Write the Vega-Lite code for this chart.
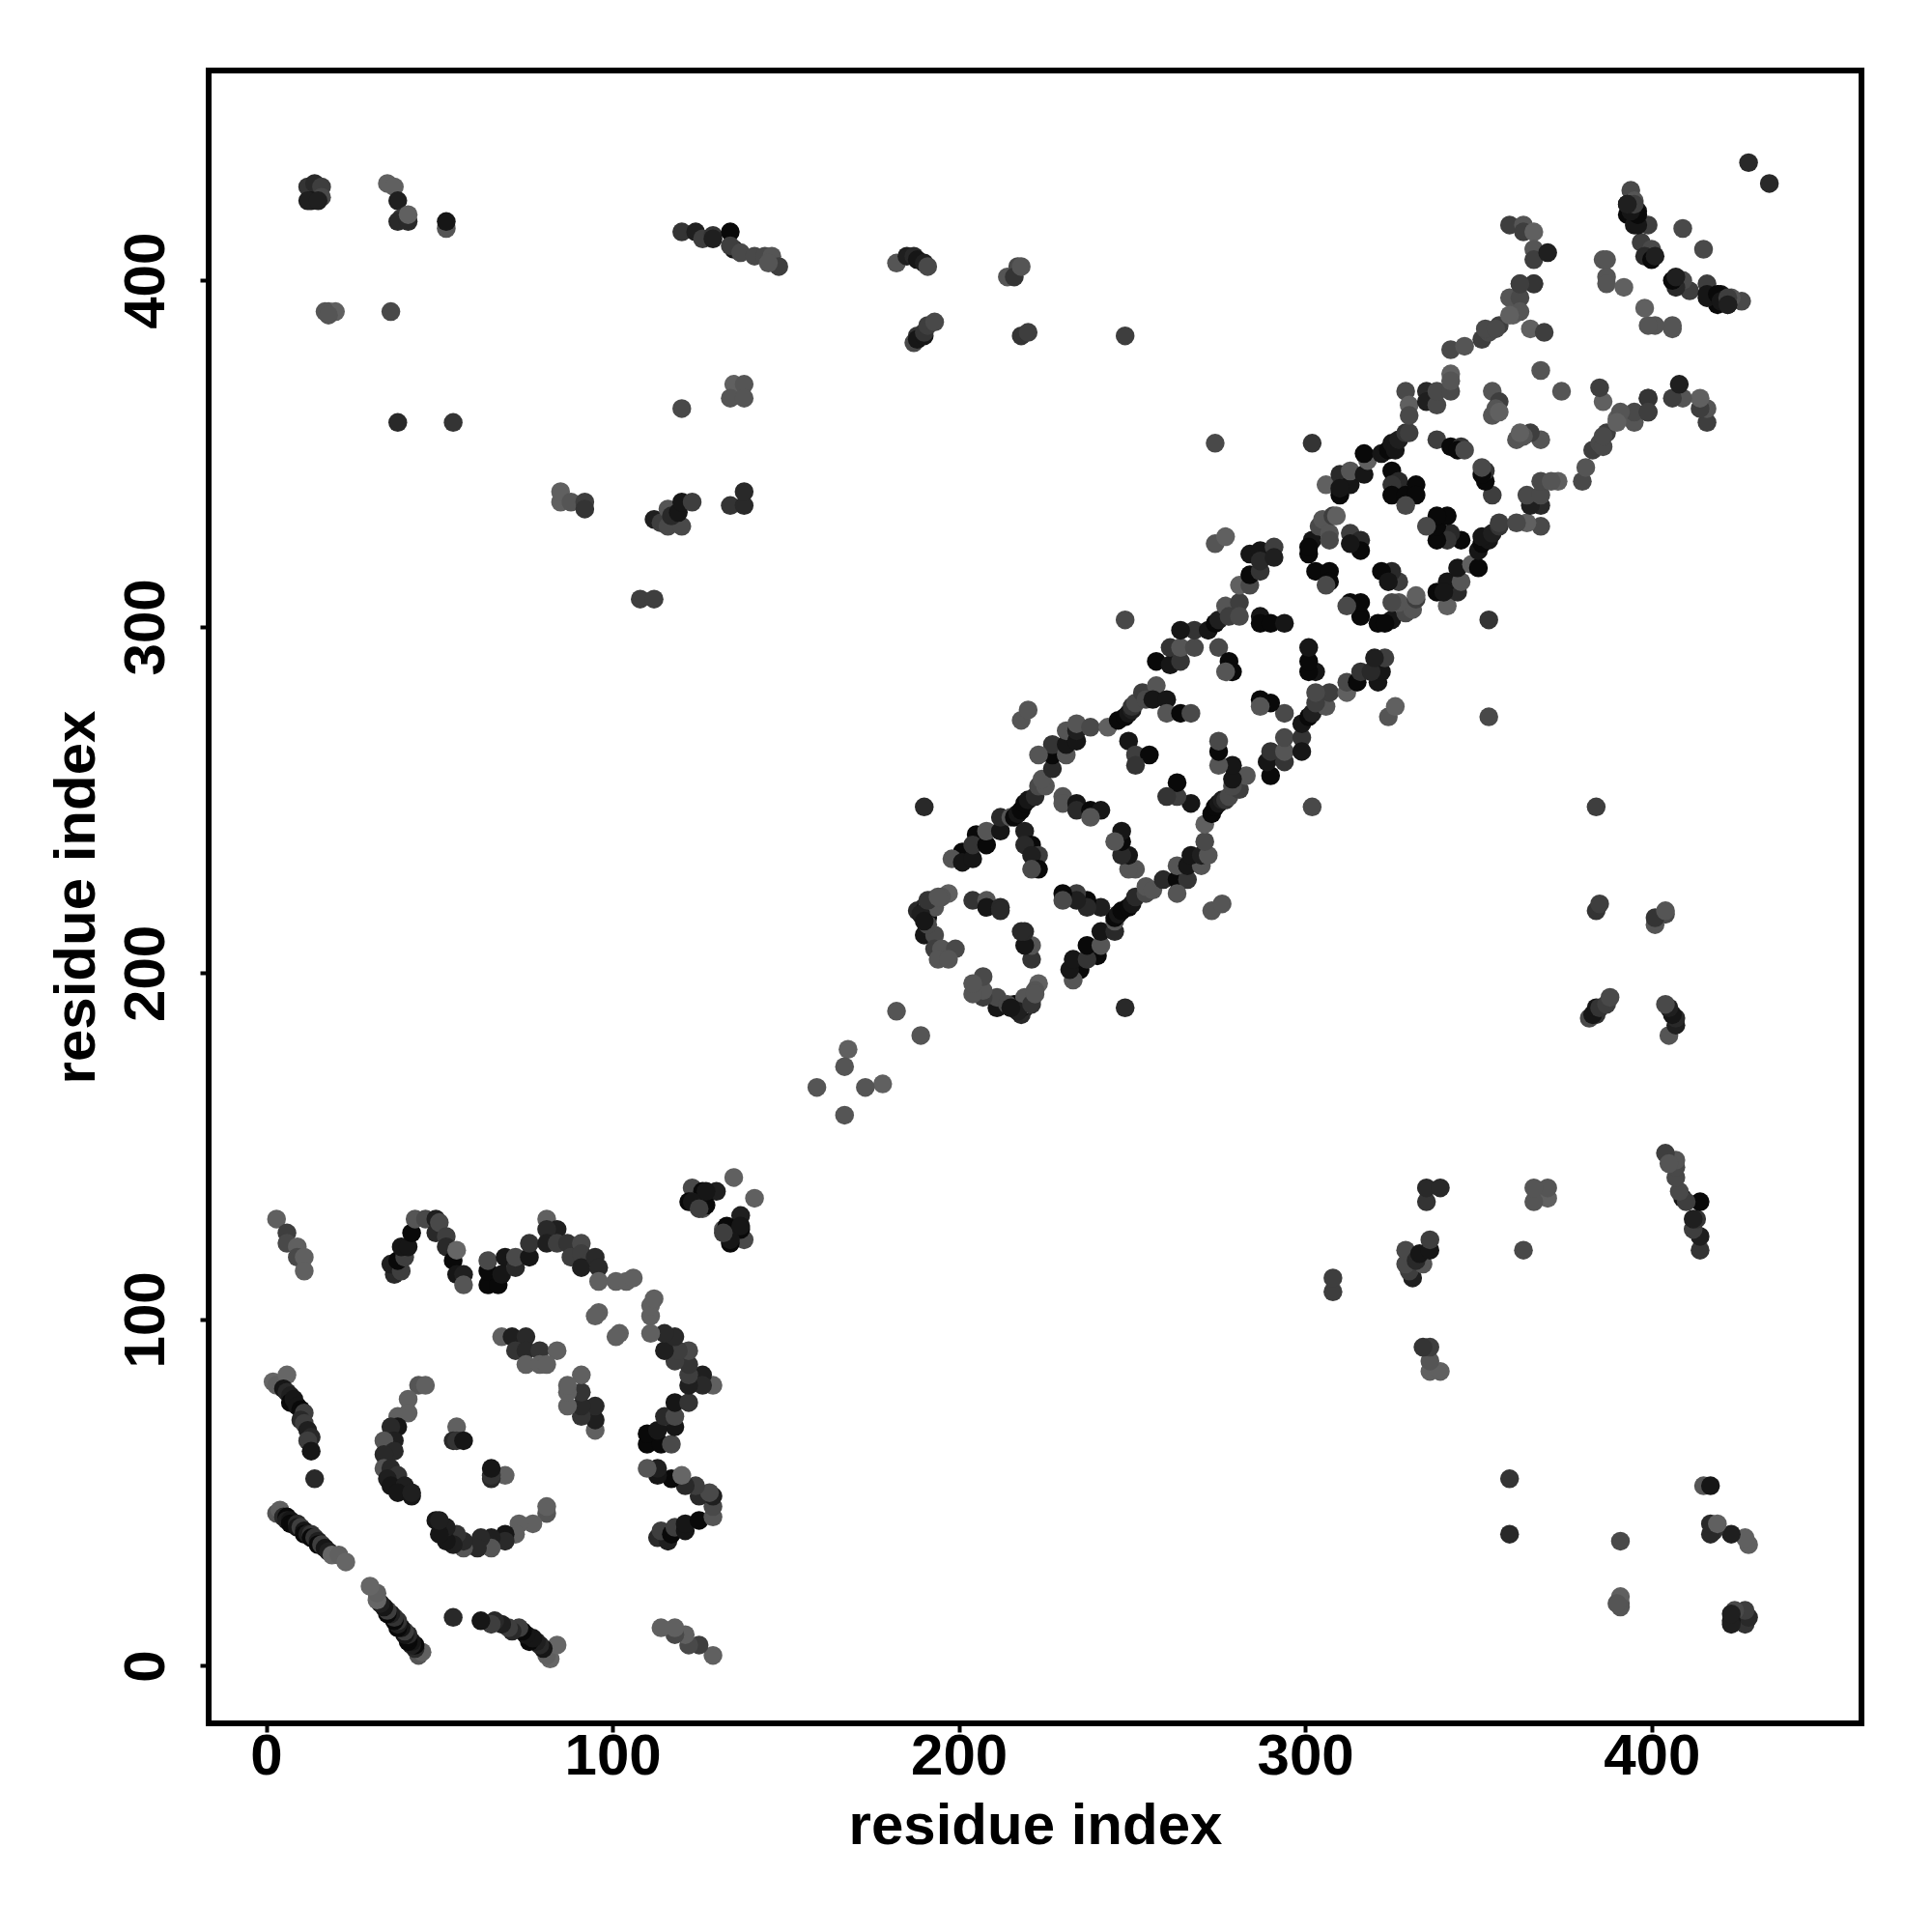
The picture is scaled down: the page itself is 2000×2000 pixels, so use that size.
{"$schema":"https://vega.github.io/schema/vega-lite/v6.json","autosize":{"type":"none"},"padding":{"left":216,"top":73,"right":73,"bottom":216},"width":1711,"height":1711,"background":"white","config":{"view":{"stroke":"black","strokeWidth":6}},"data":{"values":[
{"x":3,"y":44,"s":7},{"x":4,"y":45,"s":8},{"x":5,"y":43,"s":3},{"x":6,"y":43,"s":0},{"x":6,"y":42,"s":2},{"x":7,"y":42,"s":1},{"x":7,"y":41,"s":0},{"x":8,"y":41,"s":0},{"x":9,"y":41,"s":3},{"x":9,"y":40,"s":1},{"x":10,"y":40,"s":5},{"x":11,"y":39,"s":1},{"x":11,"y":38,"s":0},{"x":12,"y":38,"s":2},{"x":13,"y":38,"s":4},{"x":13,"y":37,"s":0},{"x":14,"y":37,"s":4},{"x":15,"y":36,"s":2},{"x":15,"y":35,"s":0},{"x":16,"y":35,"s":5},{"x":17,"y":34,"s":1},{"x":18,"y":33,"s":2},{"x":19,"y":32,"s":10},{"x":21,"y":32,"s":8},{"x":23,"y":30,"s":9},
{"x":14,"y":54,"s":3},
{"x":2,"y":82,"s":9},{"x":3,"y":81,"s":8},{"x":6,"y":84,"s":10},{"x":5,"y":80,"s":1},{"x":6,"y":79,"s":3},{"x":7,"y":78,"s":2},{"x":7,"y":76,"s":0},{"x":8,"y":77,"s":1},{"x":9,"y":75,"s":1},{"x":10,"y":74,"s":0},{"x":11,"y":73,"s":5},{"x":10,"y":71,"s":3},{"x":11,"y":70,"s":5},{"x":12,"y":68,"s":2},{"x":13,"y":66,"s":3},{"x":12,"y":65,"s":5},{"x":13,"y":62,"s":1},
{"x":3,"y":129,"s":8},{"x":6,"y":125,"s":5},{"x":6,"y":122,"s":6},{"x":9,"y":121,"s":8},{"x":9,"y":118,"s":6},{"x":11,"y":118,"s":8},{"x":11,"y":114,"s":8},
{"x":37,"y":113,"s":3},{"x":36,"y":116,"s":2},{"x":39,"y":114,"s":5},{"x":38,"y":117,"s":0},{"x":40,"y":118,"s":5},{"x":39,"y":121,"s":1},{"x":41,"y":121,"s":1},{"x":42,"y":125,"s":0},{"x":43,"y":129,"s":7},{"x":46,"y":129,"s":6},{"x":49,"y":129,"s":2},{"x":49,"y":125,"s":3},{"x":50,"y":128,"s":6},{"x":52,"y":124,"s":5},{"x":52,"y":121,"s":3},{"x":54,"y":117,"s":0},{"x":55,"y":120,"s":9},{"x":55,"y":113,"s":1},{"x":57,"y":113,"s":2},{"x":57,"y":110,"s":7},
{"x":64,"y":110,"s":0},{"x":67,"y":110,"s":0},{"x":64,"y":114,"s":0},{"x":64,"y":117,"s":6},{"x":69,"y":118,"s":1},{"x":68,"y":113,"s":1},{"x":72,"y":115,"s":3},{"x":72,"y":118,"s":6},{"x":76,"y":118,"s":1},{"x":76,"y":122,"s":4},{"x":81,"y":129,"s":8},{"x":84,"y":126,"s":2},{"x":81,"y":126,"s":3},{"x":81,"y":122,"s":2},{"x":84,"y":122,"s":5},{"x":87,"y":122,"s":4},{"x":91,"y":122,"s":6},{"x":88,"y":118,"s":5},{"x":91,"y":119,"s":5},{"x":91,"y":115,"s":2},{"x":95,"y":118,"s":3},{"x":96,"y":115,"s":3},{"x":96,"y":111,"s":8},{"x":101,"y":111,"s":8},{"x":104,"y":111,"s":8},{"x":106,"y":112,"s":8},
{"x":96,"y":102,"s":8},{"x":95,"y":101,"s":8},
{"x":68,"y":95,"s":8},{"x":71,"y":95,"s":2},{"x":75,"y":95,"s":3},{"x":72,"y":91,"s":4},{"x":75,"y":91,"s":3},{"x":79,"y":91,"s":4},{"x":84,"y":91,"s":8},{"x":75,"y":87,"s":8},{"x":79,"y":87,"s":8},{"x":81,"y":87,"s":8},
{"x":44,"y":81,"s":7},{"x":46,"y":81,"s":8},{"x":41,"y":77,"s":8},{"x":41,"y":73,"s":8},{"x":38,"y":72,"s":8},{"x":38,"y":69,"s":1},{"x":36,"y":69,"s":3},{"x":37,"y":65,"s":2},{"x":34,"y":65,"s":7},{"x":37,"y":62,"s":3},{"x":34,"y":61,"s":3},{"x":34,"y":57,"s":7},{"x":36,"y":57,"s":3},{"x":38,"y":55,"s":4},{"x":35,"y":54,"s":2},{"x":36,"y":52,"s":1},{"x":40,"y":52,"s":2},{"x":38,"y":50,"s":1},{"x":42,"y":49,"s":1},{"x":42,"y":50,"s":2},
{"x":55,"y":69,"s":8},{"x":54,"y":65,"s":3},{"x":55,"y":65,"s":4},{"x":57,"y":65,"s":1},
{"x":123,"y":138,"s":6},{"x":126,"y":137,"s":0},{"x":130,"y":137,"s":2},{"x":122,"y":134,"s":0},{"x":126,"y":134,"s":1},{"x":126,"y":132,"s":7},{"x":135,"y":141,"s":8},{"x":127,"y":133,"s":0},{"x":127,"y":137,"s":1},{"x":123,"y":134,"s":1},{"x":125,"y":132,"s":5},
{"x":12,"y":427,"s":4},{"x":14,"y":428,"s":3},{"x":16,"y":427,"s":5},{"x":16,"y":424,"s":6},{"x":13,"y":423,"s":1},{"x":12,"y":423,"s":2},{"x":15,"y":423,"s":2},{"x":35,"y":428,"s":8},{"x":37,"y":427,"s":8},{"x":38,"y":423,"s":2},{"x":39,"y":418,"s":4},{"x":38,"y":417,"s":3},{"x":41,"y":417,"s":3},{"x":41,"y":419,"s":8},{"x":52,"y":415,"s":7},{"x":52,"y":417,"s":1},{"x":18,"y":391,"s":7},{"x":20,"y":391,"s":8},{"x":17,"y":391,"s":7},{"x":18,"y":390,"s":7},{"x":36,"y":391,"s":6},{"x":38,"y":359,"s":3},{"x":54,"y":359,"s":4},
{"x":120,"y":414,"s":4},{"x":124,"y":414,"s":2},{"x":126,"y":412,"s":5},{"x":129,"y":413,"s":4},{"x":129,"y":412,"s":2},{"x":134,"y":414,"s":0},{"x":135,"y":409,"s":1},{"x":134,"y":410,"s":5},{"x":137,"y":408,"s":6},{"x":141,"y":407,"s":6},{"x":144,"y":407,"s":6},{"x":146,"y":407,"s":7},{"x":148,"y":404,"s":5},{"x":145,"y":405,"s":7},
{"x":120,"y":363,"s":6},{"x":135,"y":370,"s":8},{"x":138,"y":370,"s":7},{"x":134,"y":366,"s":7},{"x":138,"y":366,"s":7},{"x":134,"y":335,"s":4},{"x":138,"y":335,"s":3},{"x":138,"y":339,"s":3},
{"x":85,"y":336,"s":8},{"x":85,"y":339,"s":8},{"x":88,"y":336,"s":7},{"x":92,"y":336,"s":5},{"x":92,"y":334,"s":4},{"x":112,"y":331,"s":2},{"x":114,"y":330,"s":5},{"x":116,"y":329,"s":6},{"x":120,"y":329,"s":6},{"x":116,"y":334,"s":7},{"x":117,"y":332,"s":3},{"x":119,"y":333,"s":1},{"x":120,"y":336,"s":1},{"x":123,"y":336,"s":5},{"x":108,"y":308,"s":5},{"x":112,"y":308,"s":5},
{"x":182,"y":405,"s":7},{"x":185,"y":407,"s":2},{"x":187,"y":407,"s":3},{"x":188,"y":406,"s":1},{"x":190,"y":405,"s":2},{"x":191,"y":404,"s":6},{"x":187,"y":382,"s":6},{"x":188,"y":384,"s":4},{"x":188,"y":383,"s":1},{"x":190,"y":384,"s":1},{"x":190,"y":385,"s":4},{"x":191,"y":387,"s":5},{"x":193,"y":388,"s":6},{"x":214,"y":401,"s":7},{"x":217,"y":404,"s":6},{"x":216,"y":401,"s":4},{"x":218,"y":404,"s":7},{"x":218,"y":384,"s":4},{"x":220,"y":385,"s":5},{"x":248,"y":384,"s":5},
{"x":190,"y":248,"s":3},{"x":248,"y":302,"s":6},{"x":274,"y":353,"s":6},{"x":302,"y":353,"s":4},{"x":159,"y":167,"s":7},{"x":168,"y":178,"s":8},{"x":167,"y":173,"s":7},{"x":182,"y":189,"s":7},{"x":428,"y":434,"s":3},
{"x":197,"y":223,"s":8},{"x":195,"y":222,"s":7},{"x":192,"y":221,"s":6},{"x":191,"y":220,"s":5},{"x":190,"y":219,"s":2},{"x":188,"y":218,"s":3},{"x":191,"y":216,"s":0},{"x":190,"y":218,"s":1},{"x":191,"y":219,"s":7},{"x":193,"y":219,"s":7},{"x":190,"y":211,"s":1},{"x":193,"y":211,"s":6},{"x":191,"y":214,"s":6},{"x":193,"y":207,"s":5},{"x":195,"y":207,"s":7},{"x":199,"y":207,"s":6},{"x":194,"y":204,"s":7},{"x":197,"y":204,"s":7},{"x":189,"y":217,"s":2},{"x":190,"y":215,"s":1},{"x":191,"y":221,"s":4},{"x":194,"y":222,"s":7},
{"x":204,"y":221,"s":4},{"x":208,"y":221,"s":7},{"x":208,"y":219,"s":1},{"x":212,"y":219,"s":3},{"x":212,"y":218,"s":3},
{"x":201,"y":235,"s":0},{"x":198,"y":233,"s":7},{"x":201,"y":232,"s":1},{"x":204,"y":233,"s":1},{"x":205,"y":240,"s":0},{"x":204,"y":237,"s":4},{"x":208,"y":237,"s":0},{"x":208,"y":241,"s":7},{"x":212,"y":241,"s":1},{"x":212,"y":245,"s":3},{"x":215,"y":245,"s":7},{"x":216,"y":245,"s":0},{"x":217,"y":246,"s":1},{"x":218,"y":247,"s":0},{"x":219,"y":249,"s":0},{"x":220,"y":250,"s":1},{"x":222,"y":251,"s":3},{"x":223,"y":254,"s":6},{"x":225,"y":254,"s":7},{"x":224,"y":256,"s":7},
{"x":219,"y":241,"s":2},{"x":221,"y":237,"s":0},{"x":219,"y":237,"s":3},{"x":223,"y":234,"s":5},{"x":221,"y":234,"s":2},{"x":223,"y":230,"s":0},{"x":221,"y":230,"s":6},
{"x":230,"y":251,"s":7},{"x":230,"y":249,"s":7},{"x":234,"y":249,"s":1},{"x":234,"y":247,"s":3},{"x":238,"y":247,"s":0},{"x":241,"y":247,"s":1},{"x":238,"y":245,"s":7},
{"x":227,"y":259,"s":3},{"x":227,"y":263,"s":0},{"x":227,"y":266,"s":4},{"x":223,"y":263,"s":7},{"x":231,"y":263,"s":7},{"x":231,"y":266,"s":1},{"x":231,"y":270,"s":7},{"x":234,"y":267,"s":1},{"x":234,"y":270,"s":2},{"x":234,"y":272,"s":7},{"x":238,"y":271,"s":6},{"x":218,"y":273,"s":7},{"x":220,"y":276,"s":7},
{"x":243,"y":271,"s":8},{"x":246,"y":273,"s":0},{"x":248,"y":274,"s":0},{"x":249,"y":275,"s":1},{"x":250,"y":276,"s":2},{"x":250,"y":277,"s":4},{"x":251,"y":278,"s":6},{"x":253,"y":281,"s":5},{"x":254,"y":279,"s":6},{"x":257,"y":283,"s":7},{"x":256,"y":279,"s":1},{"x":260,"y":279,"s":1},{"x":260,"y":275,"s":7},{"x":264,"y":275,"s":0},{"x":267,"y":275,"s":6},{"x":249,"y":267,"s":1},{"x":251,"y":263,"s":5},{"x":255,"y":263,"s":0},{"x":251,"y":260,"s":4},
{"x":257,"y":290,"s":0},{"x":261,"y":289,"s":1},{"x":261,"y":294,"s":4},{"x":264,"y":290,"s":4},{"x":264,"y":294,"s":7},{"x":268,"y":294,"s":6},{"x":268,"y":299,"s":4},{"x":264,"y":299,"s":1},{"x":272,"y":299,"s":1},{"x":274,"y":301,"s":0},{"x":275,"y":302,"s":2},{"x":277,"y":306,"s":7},{"x":278,"y":303,"s":5},{"x":281,"y":307,"s":5},{"x":281,"y":303,"s":6},{"x":275,"y":294,"s":6},{"x":278,"y":290,"s":0},{"x":279,"y":287,"s":0},{"x":277,"y":287,"s":7},
{"x":274,"y":324,"s":7},{"x":277,"y":326,"s":8},{"x":281,"y":312,"s":8},{"x":284,"y":312,"s":6},{"x":284,"y":315,"s":0},{"x":287,"y":316,"s":4},{"x":284,"y":321,"s":1},{"x":287,"y":322,"s":1},{"x":287,"y":319,"s":3},{"x":291,"y":323,"s":5},{"x":291,"y":320,"s":2},
{"x":287,"y":303,"s":1},{"x":287,"y":301,"s":0},{"x":290,"y":301,"s":0},{"x":294,"y":301,"s":1},
{"x":302,"y":325,"s":1},{"x":301,"y":321,"s":0},{"x":301,"y":323,"s":0},{"x":304,"y":329,"s":6},{"x":305,"y":331,"s":7},{"x":307,"y":327,"s":7},{"x":308,"y":332,"s":5},{"x":309,"y":332,"s":8},{"x":307,"y":325,"s":6},{"x":313,"y":327,"s":5},{"x":316,"y":325,"s":3},{"x":316,"y":322,"s":0},{"x":303,"y":316,"s":0},{"x":307,"y":316,"s":0},{"x":307,"y":313,"s":0},{"x":306,"y":312,"s":6},{"x":313,"y":324,"s":1},
{"x":306,"y":341,"s":8},{"x":310,"y":344,"s":3},{"x":310,"y":338,"s":0},{"x":313,"y":341,"s":1},{"x":310,"y":340,"s":1},{"x":313,"y":345,"s":7},{"x":317,"y":344,"s":1},{"x":318,"y":348,"s":8},{"x":317,"y":350,"s":0},{"x":322,"y":350,"s":1},{"x":324,"y":351,"s":0},{"x":325,"y":353,"s":1},{"x":326,"y":351,"s":1},{"x":327,"y":354,"s":2},{"x":329,"y":356,"s":4},{"x":330,"y":356,"s":5},
{"x":329,"y":368,"s":6},{"x":330,"y":364,"s":8},{"x":330,"y":361,"s":6},{"x":335,"y":368,"s":3},{"x":335,"y":365,"s":2},{"x":338,"y":364,"s":6},{"x":338,"y":368,"s":6},{"x":342,"y":368,"s":6},{"x":342,"y":373,"s":8},{"x":342,"y":371,"s":7},{"x":342,"y":380,"s":6},{"x":346,"y":381,"s":7},{"x":351,"y":383,"s":5},{"x":353,"y":385,"s":6},{"x":352,"y":386,"s":6},{"x":356,"y":387,"s":5},
{"x":359,"y":395,"s":7},{"x":362,"y":395,"s":6},{"x":362,"y":399,"s":5},{"x":366,"y":399,"s":5},{"x":360,"y":390,"s":8},{"x":362,"y":391,"s":7},{"x":365,"y":386,"s":8},{"x":369,"y":385,"s":5},
{"x":359,"y":416,"s":5},{"x":363,"y":416,"s":7},{"x":363,"y":414,"s":5},{"x":366,"y":414,"s":8},{"x":366,"y":409,"s":7},{"x":366,"y":406,"s":5},{"x":370,"y":408,"s":2},
{"x":338,"y":354,"s":5},{"x":342,"y":352,"s":0},{"x":345,"y":352,"s":4},{"x":344,"y":351,"s":0},{"x":346,"y":351,"s":6},
{"x":325,"y":345,"s":0},{"x":327,"y":342,"s":3},{"x":325,"y":341,"s":4},{"x":325,"y":338,"s":0},{"x":329,"y":338,"s":0},{"x":332,"y":341,"s":0},{"x":332,"y":338,"s":0},{"x":329,"y":335,"s":6},
{"x":368,"y":374,"s":7},{"x":354,"y":368,"s":7},{"x":356,"y":365,"s":5},{"x":354,"y":361,"s":7},{"x":355,"y":363,"s":7},{"x":356,"y":362,"s":8},
{"x":394,"y":426,"s":6},{"x":395,"y":423,"s":7},{"x":393,"y":422,"s":0},{"x":393,"y":419,"s":0},{"x":396,"y":420,"s":1},{"x":395,"y":416,"s":1},{"x":399,"y":416,"s":5},{"x":397,"y":411,"s":5},{"x":400,"y":409,"s":6},{"x":398,"y":407,"s":3},{"x":400,"y":406,"s":0},{"x":401,"y":407,"s":2},{"x":409,"y":415,"s":6},{"x":396,"y":416,"s":1},{"x":396,"y":419,"s":0},{"x":394,"y":420,"s":1},{"x":395,"y":422,"s":5},{"x":393,"y":422,"s":2},
{"x":386,"y":406,"s":7},{"x":387,"y":406,"s":7},{"x":387,"y":401,"s":7},{"x":387,"y":399,"s":7},{"x":392,"y":398,"s":8},
{"x":366,"y":399,"s":4},{"x":362,"y":399,"s":5},{"x":359,"y":390,"s":8},{"x":355,"y":386,"s":6},
{"x":44,"y":3,"s":7},{"x":45,"y":4,"s":8},{"x":43,"y":5,"s":3},{"x":43,"y":6,"s":0},{"x":42,"y":6,"s":2},{"x":42,"y":7,"s":1},{"x":41,"y":7,"s":0},{"x":41,"y":8,"s":0},{"x":41,"y":9,"s":3},{"x":40,"y":9,"s":1},{"x":40,"y":10,"s":5},{"x":39,"y":11,"s":1},{"x":38,"y":11,"s":0},{"x":38,"y":12,"s":2},{"x":38,"y":13,"s":4},{"x":37,"y":13,"s":0},{"x":37,"y":14,"s":4},{"x":36,"y":15,"s":2},{"x":35,"y":15,"s":0},{"x":35,"y":16,"s":5},{"x":34,"y":17,"s":1},{"x":33,"y":18,"s":2},{"x":32,"y":19,"s":10},{"x":32,"y":21,"s":8},{"x":30,"y":23,"s":9},
{"x":54,"y":14,"s":3},
{"x":82,"y":2,"s":9},{"x":81,"y":3,"s":8},{"x":84,"y":6,"s":10},{"x":80,"y":5,"s":1},{"x":79,"y":6,"s":3},{"x":78,"y":7,"s":2},{"x":76,"y":7,"s":0},{"x":77,"y":8,"s":1},{"x":75,"y":9,"s":1},{"x":74,"y":10,"s":0},{"x":73,"y":11,"s":5},{"x":71,"y":10,"s":3},{"x":70,"y":11,"s":5},{"x":68,"y":12,"s":2},{"x":66,"y":13,"s":3},{"x":65,"y":12,"s":5},{"x":62,"y":13,"s":1},
{"x":129,"y":3,"s":8},{"x":125,"y":6,"s":5},{"x":122,"y":6,"s":6},{"x":121,"y":9,"s":8},{"x":118,"y":9,"s":6},{"x":118,"y":11,"s":8},{"x":114,"y":11,"s":8},
{"x":113,"y":37,"s":3},{"x":116,"y":36,"s":2},{"x":114,"y":39,"s":5},{"x":117,"y":38,"s":0},{"x":118,"y":40,"s":5},{"x":121,"y":39,"s":1},{"x":121,"y":41,"s":1},{"x":125,"y":42,"s":0},{"x":129,"y":43,"s":7},{"x":129,"y":46,"s":6},{"x":129,"y":49,"s":2},{"x":125,"y":49,"s":3},{"x":128,"y":50,"s":6},{"x":124,"y":52,"s":5},{"x":121,"y":52,"s":3},{"x":117,"y":54,"s":0},{"x":120,"y":55,"s":9},{"x":113,"y":55,"s":1},{"x":113,"y":57,"s":2},{"x":110,"y":57,"s":7},
{"x":110,"y":64,"s":0},{"x":110,"y":67,"s":0},{"x":114,"y":64,"s":0},{"x":117,"y":64,"s":6},{"x":118,"y":69,"s":1},{"x":113,"y":68,"s":1},{"x":115,"y":72,"s":3},{"x":118,"y":72,"s":6},{"x":118,"y":76,"s":1},{"x":122,"y":76,"s":4},{"x":129,"y":81,"s":8},{"x":126,"y":84,"s":2},{"x":126,"y":81,"s":3},{"x":122,"y":81,"s":2},{"x":122,"y":84,"s":5},{"x":122,"y":87,"s":4},{"x":122,"y":91,"s":6},{"x":118,"y":88,"s":5},{"x":119,"y":91,"s":5},{"x":115,"y":91,"s":2},{"x":118,"y":95,"s":3},{"x":115,"y":96,"s":3},{"x":111,"y":96,"s":8},{"x":111,"y":101,"s":8},{"x":111,"y":104,"s":8},{"x":112,"y":106,"s":8},
{"x":102,"y":96,"s":8},{"x":101,"y":95,"s":8},
{"x":95,"y":68,"s":8},{"x":95,"y":71,"s":2},{"x":95,"y":75,"s":3},{"x":91,"y":72,"s":4},{"x":91,"y":75,"s":3},{"x":91,"y":79,"s":4},{"x":91,"y":84,"s":8},{"x":87,"y":75,"s":8},{"x":87,"y":79,"s":8},{"x":87,"y":81,"s":8},
{"x":81,"y":44,"s":7},{"x":81,"y":46,"s":8},{"x":77,"y":41,"s":8},{"x":73,"y":41,"s":8},{"x":72,"y":38,"s":8},{"x":69,"y":38,"s":1},{"x":69,"y":36,"s":3},{"x":65,"y":37,"s":2},{"x":65,"y":34,"s":7},{"x":62,"y":37,"s":3},{"x":61,"y":34,"s":3},{"x":57,"y":34,"s":7},{"x":57,"y":36,"s":3},{"x":55,"y":38,"s":4},{"x":54,"y":35,"s":2},{"x":52,"y":36,"s":1},{"x":52,"y":40,"s":2},{"x":50,"y":38,"s":1},{"x":49,"y":42,"s":1},{"x":50,"y":42,"s":2},
{"x":69,"y":55,"s":8},{"x":65,"y":54,"s":3},{"x":65,"y":55,"s":4},{"x":65,"y":57,"s":1},
{"x":138,"y":123,"s":6},{"x":137,"y":126,"s":0},{"x":137,"y":130,"s":2},{"x":134,"y":122,"s":0},{"x":134,"y":126,"s":1},{"x":132,"y":126,"s":7},{"x":141,"y":135,"s":8},{"x":133,"y":127,"s":0},{"x":137,"y":127,"s":1},{"x":134,"y":123,"s":1},{"x":132,"y":125,"s":5},
{"x":427,"y":12,"s":4},{"x":428,"y":14,"s":3},{"x":427,"y":16,"s":5},{"x":424,"y":16,"s":6},{"x":423,"y":13,"s":1},{"x":423,"y":12,"s":2},{"x":423,"y":15,"s":2},{"x":428,"y":35,"s":8},{"x":427,"y":37,"s":8},{"x":423,"y":38,"s":2},{"x":418,"y":39,"s":4},{"x":417,"y":38,"s":3},{"x":417,"y":41,"s":3},{"x":419,"y":41,"s":8},{"x":415,"y":52,"s":7},{"x":417,"y":52,"s":1},{"x":391,"y":18,"s":7},{"x":391,"y":20,"s":8},{"x":391,"y":17,"s":7},{"x":390,"y":18,"s":7},{"x":391,"y":36,"s":6},{"x":359,"y":38,"s":3},{"x":359,"y":54,"s":4},
{"x":414,"y":120,"s":4},{"x":414,"y":124,"s":2},{"x":412,"y":126,"s":5},{"x":413,"y":129,"s":4},{"x":412,"y":129,"s":2},{"x":414,"y":134,"s":0},{"x":409,"y":135,"s":1},{"x":410,"y":134,"s":5},{"x":408,"y":137,"s":6},{"x":407,"y":141,"s":6},{"x":407,"y":144,"s":6},{"x":407,"y":146,"s":7},{"x":404,"y":148,"s":5},{"x":405,"y":145,"s":7},
{"x":363,"y":120,"s":6},{"x":370,"y":135,"s":8},{"x":370,"y":138,"s":7},{"x":366,"y":134,"s":7},{"x":366,"y":138,"s":7},{"x":335,"y":134,"s":4},{"x":335,"y":138,"s":3},{"x":339,"y":138,"s":3},
{"x":336,"y":85,"s":8},{"x":339,"y":85,"s":8},{"x":336,"y":88,"s":7},{"x":336,"y":92,"s":5},{"x":334,"y":92,"s":4},{"x":331,"y":112,"s":2},{"x":330,"y":114,"s":5},{"x":329,"y":116,"s":6},{"x":329,"y":120,"s":6},{"x":334,"y":116,"s":7},{"x":332,"y":117,"s":3},{"x":333,"y":119,"s":1},{"x":336,"y":120,"s":1},{"x":336,"y":123,"s":5},{"x":308,"y":108,"s":5},{"x":308,"y":112,"s":5},
{"x":405,"y":182,"s":7},{"x":407,"y":185,"s":2},{"x":407,"y":187,"s":3},{"x":406,"y":188,"s":1},{"x":405,"y":190,"s":2},{"x":404,"y":191,"s":6},{"x":382,"y":187,"s":6},{"x":384,"y":188,"s":4},{"x":383,"y":188,"s":1},{"x":384,"y":190,"s":1},{"x":385,"y":190,"s":4},{"x":387,"y":191,"s":5},{"x":388,"y":193,"s":6},{"x":401,"y":214,"s":7},{"x":404,"y":217,"s":6},{"x":401,"y":216,"s":4},{"x":404,"y":218,"s":7},{"x":384,"y":218,"s":4},{"x":385,"y":220,"s":5},{"x":384,"y":248,"s":5},
{"x":248,"y":190,"s":3},{"x":302,"y":248,"s":6},{"x":353,"y":274,"s":6},{"x":353,"y":302,"s":4},{"x":167,"y":159,"s":7},{"x":178,"y":168,"s":8},{"x":173,"y":167,"s":7},{"x":189,"y":182,"s":7},{"x":434,"y":428,"s":3},
{"x":223,"y":197,"s":8},{"x":222,"y":195,"s":7},{"x":221,"y":192,"s":6},{"x":220,"y":191,"s":5},{"x":219,"y":190,"s":2},{"x":218,"y":188,"s":3},{"x":216,"y":191,"s":0},{"x":218,"y":190,"s":1},{"x":219,"y":191,"s":7},{"x":219,"y":193,"s":7},{"x":211,"y":190,"s":1},{"x":211,"y":193,"s":6},{"x":214,"y":191,"s":6},{"x":207,"y":193,"s":5},{"x":207,"y":195,"s":7},{"x":207,"y":199,"s":6},{"x":204,"y":194,"s":7},{"x":204,"y":197,"s":7},{"x":217,"y":189,"s":2},{"x":215,"y":190,"s":1},{"x":221,"y":191,"s":4},{"x":222,"y":194,"s":7},
{"x":221,"y":204,"s":4},{"x":221,"y":208,"s":7},{"x":219,"y":208,"s":1},{"x":219,"y":212,"s":3},{"x":218,"y":212,"s":3},
{"x":235,"y":201,"s":0},{"x":233,"y":198,"s":7},{"x":232,"y":201,"s":1},{"x":233,"y":204,"s":1},{"x":240,"y":205,"s":0},{"x":237,"y":204,"s":4},{"x":237,"y":208,"s":0},{"x":241,"y":208,"s":7},{"x":241,"y":212,"s":1},{"x":245,"y":212,"s":3},{"x":245,"y":215,"s":7},{"x":245,"y":216,"s":0},{"x":246,"y":217,"s":1},{"x":247,"y":218,"s":0},{"x":249,"y":219,"s":0},{"x":250,"y":220,"s":1},{"x":251,"y":222,"s":3},{"x":254,"y":223,"s":6},{"x":254,"y":225,"s":7},{"x":256,"y":224,"s":7},
{"x":241,"y":219,"s":2},{"x":237,"y":221,"s":0},{"x":237,"y":219,"s":3},{"x":234,"y":223,"s":5},{"x":234,"y":221,"s":2},{"x":230,"y":223,"s":0},{"x":230,"y":221,"s":6},
{"x":251,"y":230,"s":7},{"x":249,"y":230,"s":7},{"x":249,"y":234,"s":1},{"x":247,"y":234,"s":3},{"x":247,"y":238,"s":0},{"x":247,"y":241,"s":1},{"x":245,"y":238,"s":7},
{"x":259,"y":227,"s":3},{"x":263,"y":227,"s":0},{"x":266,"y":227,"s":4},{"x":263,"y":223,"s":7},{"x":263,"y":231,"s":7},{"x":266,"y":231,"s":1},{"x":270,"y":231,"s":7},{"x":267,"y":234,"s":1},{"x":270,"y":234,"s":2},{"x":272,"y":234,"s":7},{"x":271,"y":238,"s":6},{"x":273,"y":218,"s":7},{"x":276,"y":220,"s":7},
{"x":271,"y":243,"s":8},{"x":273,"y":246,"s":0},{"x":274,"y":248,"s":0},{"x":275,"y":249,"s":1},{"x":276,"y":250,"s":2},{"x":277,"y":250,"s":4},{"x":278,"y":251,"s":6},{"x":281,"y":253,"s":5},{"x":279,"y":254,"s":6},{"x":283,"y":257,"s":7},{"x":279,"y":256,"s":1},{"x":279,"y":260,"s":1},{"x":275,"y":260,"s":7},{"x":275,"y":264,"s":0},{"x":275,"y":267,"s":6},{"x":267,"y":249,"s":1},{"x":263,"y":251,"s":5},{"x":263,"y":255,"s":0},{"x":260,"y":251,"s":4},
{"x":290,"y":257,"s":0},{"x":289,"y":261,"s":1},{"x":294,"y":261,"s":4},{"x":290,"y":264,"s":4},{"x":294,"y":264,"s":7},{"x":294,"y":268,"s":6},{"x":299,"y":268,"s":4},{"x":299,"y":264,"s":1},{"x":299,"y":272,"s":1},{"x":301,"y":274,"s":0},{"x":302,"y":275,"s":2},{"x":306,"y":277,"s":7},{"x":303,"y":278,"s":5},{"x":307,"y":281,"s":5},{"x":303,"y":281,"s":6},{"x":294,"y":275,"s":6},{"x":290,"y":278,"s":0},{"x":287,"y":279,"s":0},{"x":287,"y":277,"s":7},
{"x":324,"y":274,"s":7},{"x":326,"y":277,"s":8},{"x":312,"y":281,"s":8},{"x":312,"y":284,"s":6},{"x":315,"y":284,"s":0},{"x":316,"y":287,"s":4},{"x":321,"y":284,"s":1},{"x":322,"y":287,"s":1},{"x":319,"y":287,"s":3},{"x":323,"y":291,"s":5},{"x":320,"y":291,"s":2},
{"x":303,"y":287,"s":1},{"x":301,"y":287,"s":0},{"x":301,"y":290,"s":0},{"x":301,"y":294,"s":1},
{"x":325,"y":302,"s":1},{"x":321,"y":301,"s":0},{"x":323,"y":301,"s":0},{"x":329,"y":304,"s":6},{"x":331,"y":305,"s":7},{"x":327,"y":307,"s":7},{"x":332,"y":308,"s":5},{"x":332,"y":309,"s":8},{"x":325,"y":307,"s":6},{"x":327,"y":313,"s":5},{"x":325,"y":316,"s":3},{"x":322,"y":316,"s":0},{"x":316,"y":303,"s":0},{"x":316,"y":307,"s":0},{"x":313,"y":307,"s":0},{"x":312,"y":306,"s":6},{"x":324,"y":313,"s":1},
{"x":341,"y":306,"s":8},{"x":344,"y":310,"s":3},{"x":338,"y":310,"s":0},{"x":341,"y":313,"s":1},{"x":340,"y":310,"s":1},{"x":345,"y":313,"s":7},{"x":344,"y":317,"s":1},{"x":348,"y":318,"s":8},{"x":350,"y":317,"s":0},{"x":350,"y":322,"s":1},{"x":351,"y":324,"s":0},{"x":353,"y":325,"s":1},{"x":351,"y":326,"s":1},{"x":354,"y":327,"s":2},{"x":356,"y":329,"s":4},{"x":356,"y":330,"s":5},
{"x":368,"y":329,"s":6},{"x":364,"y":330,"s":8},{"x":361,"y":330,"s":6},{"x":368,"y":335,"s":3},{"x":365,"y":335,"s":2},{"x":364,"y":338,"s":6},{"x":368,"y":338,"s":6},{"x":368,"y":342,"s":6},{"x":373,"y":342,"s":8},{"x":371,"y":342,"s":7},{"x":380,"y":342,"s":6},{"x":381,"y":346,"s":7},{"x":383,"y":351,"s":5},{"x":385,"y":353,"s":6},{"x":386,"y":352,"s":6},{"x":387,"y":356,"s":5},
{"x":395,"y":359,"s":7},{"x":395,"y":362,"s":6},{"x":399,"y":362,"s":5},{"x":399,"y":366,"s":5},{"x":390,"y":360,"s":8},{"x":391,"y":362,"s":7},{"x":386,"y":365,"s":8},{"x":385,"y":369,"s":5},
{"x":416,"y":359,"s":5},{"x":416,"y":363,"s":7},{"x":414,"y":363,"s":5},{"x":414,"y":366,"s":8},{"x":409,"y":366,"s":7},{"x":406,"y":366,"s":5},{"x":408,"y":370,"s":2},
{"x":354,"y":338,"s":5},{"x":352,"y":342,"s":0},{"x":352,"y":345,"s":4},{"x":351,"y":344,"s":0},{"x":351,"y":346,"s":6},
{"x":345,"y":325,"s":0},{"x":342,"y":327,"s":3},{"x":341,"y":325,"s":4},{"x":338,"y":325,"s":0},{"x":338,"y":329,"s":0},{"x":341,"y":332,"s":0},{"x":338,"y":332,"s":0},{"x":335,"y":329,"s":6},
{"x":374,"y":368,"s":7},{"x":368,"y":354,"s":7},{"x":365,"y":356,"s":5},{"x":361,"y":354,"s":7},{"x":363,"y":355,"s":7},{"x":362,"y":356,"s":8},
{"x":426,"y":394,"s":6},{"x":423,"y":395,"s":7},{"x":422,"y":393,"s":0},{"x":419,"y":393,"s":0},{"x":420,"y":396,"s":1},{"x":416,"y":395,"s":1},{"x":416,"y":399,"s":5},{"x":411,"y":397,"s":5},{"x":409,"y":400,"s":6},{"x":407,"y":398,"s":3},{"x":406,"y":400,"s":0},{"x":407,"y":401,"s":2},{"x":415,"y":409,"s":6},{"x":416,"y":396,"s":1},{"x":419,"y":396,"s":0},{"x":420,"y":394,"s":1},{"x":422,"y":395,"s":5},{"x":422,"y":393,"s":2},
{"x":406,"y":386,"s":7},{"x":406,"y":387,"s":7},{"x":401,"y":387,"s":7},{"x":399,"y":387,"s":7},{"x":398,"y":392,"s":8},
{"x":399,"y":366,"s":4},{"x":399,"y":362,"s":5},{"x":390,"y":359,"s":8},{"x":386,"y":355,"s":6}
]},"mark":{"type":"circle","size":380,"opacity":1},"encoding":{"x":{"field":"x","type":"quantitative","scale":{"domain":[-16.6,460.6],"nice":false,"zero":false},"axis":{"values":[0,100,200,300,400],"grid":false,"domain":false,"tickColor":"black","tickWidth":4,"tickSize":9,"labelFont":"Liberation Sans","labelFontWeight":"bold","labelFontSize":60,"labelColor":"black","labelPadding":-4,"title":"residue index","titleFont":"Liberation Sans","titleFontWeight":"bold","titleFontSize":60,"titleColor":"black","titlePadding":13}},"y":{"field":"y","type":"quantitative","scale":{"domain":[-16.6,460.6],"nice":false,"zero":false},"axis":{"values":[0,100,200,300,400],"grid":false,"domain":false,"tickColor":"black","tickWidth":4,"tickSize":9,"labelFont":"Liberation Sans","labelFontWeight":"bold","labelFontSize":60,"labelColor":"black","labelAngle":-90,"labelAlign":"center","labelBaseline":"bottom","labelPadding":25,"title":"residue index","titleFont":"Liberation Sans","titleFontWeight":"bold","titleFontSize":60,"titleColor":"black","titlePadding":11}},"color":{"field":"s","type":"quantitative","legend":null,"scale":{"domain":[-0.5,8.5],"range":["#000000","#666666"],"clamp":true}}}}
